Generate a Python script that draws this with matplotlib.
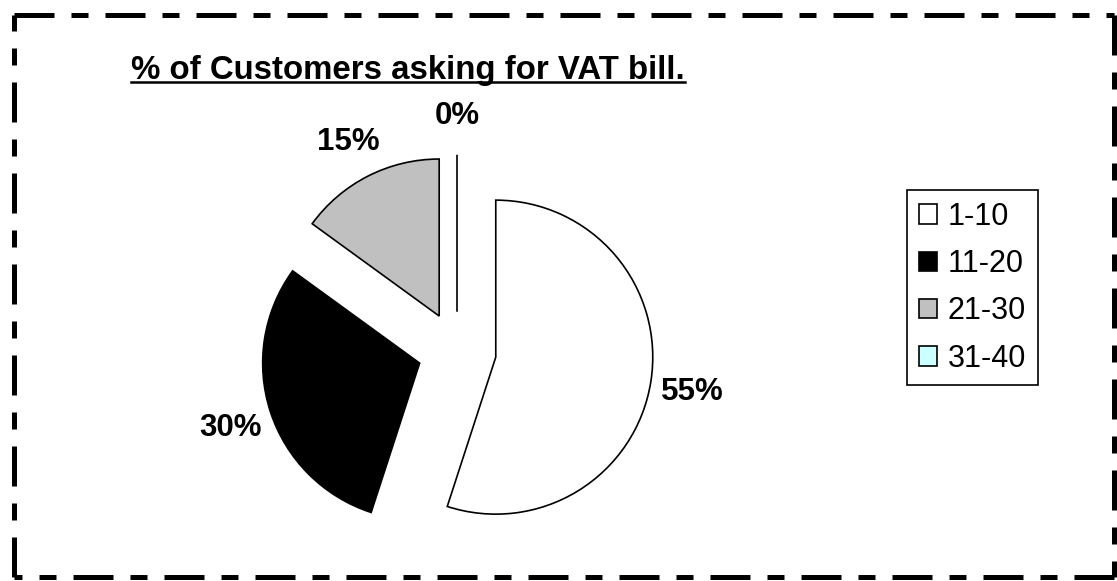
import matplotlib.pyplot as plt
from matplotlib.lines import Line2D

plt.rcParams['font.family'] = ['Liberation Sans', 'DejaVu Sans']

#%% data
categories = ["1-10", "11-20", "21-30", "31-40"]
shares = [55, 30, 15, 0]
colors = ["#FFFFFF", "#000000", "#C0C0C0", "#CCFFFF"]
title = "% of Customers asking for VAT bill."

#%% figure
W, H = 1117, 581
fig = plt.figure(figsize=(W / 100, H / 100), dpi=100)
ax = fig.add_axes([0, 0, 1, 1])

R = 157  # pie radius in px
wedges, texts, autotexts = ax.pie(
    shares,
    colors=colors,
    explode=[0.25 * R] * len(shares),  # explode is in data units, not radius
    startangle=90,
    counterclock=False,
    center=(457, H - 351),
    radius=R,
    autopct="%1.0f%%",
    pctdistance=1.27,
    wedgeprops=dict(edgecolor="black", linewidth=1.2),
    textprops=dict(fontsize=22.5, fontweight="bold", color="black"),
    frame=True,
)
for at in autotexts:
    at.set_va("center_baseline")
ax.set_xlim(0, W)
ax.set_ylim(0, H)
ax.set_aspect("equal")
ax.axis("off")

leg = ax.legend(
    wedges,
    categories,
    loc="upper left",
    bbox_to_anchor=(907 / W, 1 - 190 / H),
    borderaxespad=0,
    fontsize=22,
    frameon=True,
    fancybox=False,
    edgecolor="black",
    framealpha=1,
    handlelength=0.6,
    handleheight=0.6,
    handletextpad=0.36,
    labelspacing=0.57,
    borderpad=0.38,
)
leg.get_frame().set_linewidth(1.2)

# title, underlined
t = fig.text(131 / W, 1 - 79 / H, title, fontsize=23.8, fontweight="bold",
             ha="left", va="baseline")
fig.canvas.draw()
bb = t.get_window_extent()
fig.add_artist(Line2D([bb.x0 / W, bb.x1 / W], [(H - 82) / H] * 2,
                      transform=fig.transFigure, color="black", linewidth=1.8))

# dash-dot border, one line per side
x0, x1, y0, y1 = 14, 1114, 15, 577
sides = [((x0, x1), (y0, y0)), ((x1, x1), (y0, y1)),
         ((x1, x0), (y1, y1)), ((x0, x0), (y1, y0))]
for xs, ys in sides:
    fig.add_artist(Line2D([x / W for x in xs], [1 - y / H for y in ys],
                          transform=fig.transFigure, color="black",
                          linewidth=3.6, dashes=(8, 3.4, 3.4, 3.4),
                          dash_capstyle="butt"))

fig.savefig("out.png", dpi=100)
